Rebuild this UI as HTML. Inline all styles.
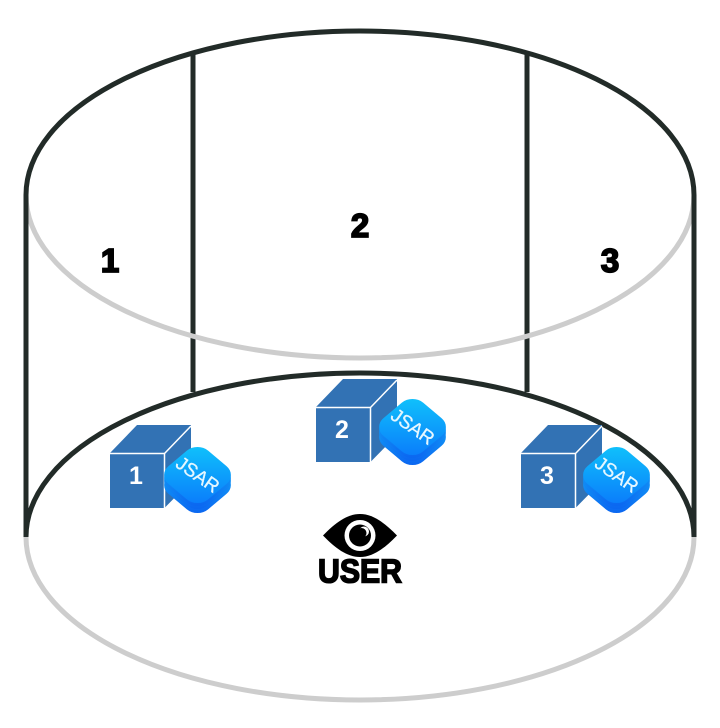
<!DOCTYPE html>
<html><head><meta charset="utf-8"><style>
html,body{margin:0;padding:0;background:#fff;width:720px;height:728px;overflow:hidden}
svg{display:block}
text{font-family:"Liberation Sans",sans-serif}
</style></head><body>
<svg width="720" height="728" viewBox="0 0 720 728" xmlns="http://www.w3.org/2000/svg">
<defs>
<linearGradient id="g1" x1="0" y1="0" x2="1" y2="1"><stop offset="0" stop-color="#10c6fb"/><stop offset="1" stop-color="#0a78fb"/></linearGradient>
<linearGradient id="g2" x1="0" y1="0" x2="1" y2="1"><stop offset="0" stop-color="#16c0fb"/><stop offset="1" stop-color="#0a5ff0"/></linearGradient>
<g id="cube">
<path d="M0 28 L27 0 H81 V56 L54.500 83 H0 Z" fill="#3272b4"/>
<path d="M0 28.500 H54.500 L81 1 M54.500 28.500 V83" fill="none" stroke="#fff" stroke-width="1.500"/>
</g>
<g id="icon">
<rect x="-28" y="-28" width="56" height="56" rx="15" transform="translate(0,10) scale(1,.84) rotate(45)" fill="url(#g2)"/>
<rect x="-28" y="-28" width="56" height="56" rx="15" transform="translate(0,6) scale(1,.84) rotate(45)" fill="url(#g2)"/>
<rect x="-28" y="-28" width="56" height="56" rx="15" transform="translate(0,3) scale(1,.84) rotate(45)" fill="url(#g2)"/>
<rect x="-28" y="-28" width="56" height="56" rx="15" transform="scale(1,.84) rotate(45)" fill="url(#g1)"/>
<text x="0" y="6" font-size="19" fill="#e6f7ff" stroke="#e6f7ff" stroke-width=".3" text-anchor="middle" textLength="48" lengthAdjust="spacingAndGlyphs" transform="rotate(35)">JSAR</text>
</g>
</defs>

<g fill="none" stroke-width="5">
<path d="M193 53 V392 M527 53 V392" stroke="#222b28"/>
<path d="M26 195 A334 163 0 0 0 694 195" stroke="#cdcdcd"/>
<path d="M26 537 A334 163 0 0 0 694 537" stroke="#cdcdcd"/>
<g stroke="#222b28">
<path d="M26 537 V195 A334 164 0 0 1 694 195 V537"/>
<path d="M26 537 A334 164 0 0 1 694 537"/>
</g>
</g>

<g font-weight="700" font-size="33" fill="#000" stroke="#000" stroke-width="1.800" text-anchor="middle">
<text x="110" y="272">1</text>
<text x="360" y="237">2</text>
<text x="610" y="272">3</text>
</g>

<use href="#cube" x="110" y="425"/>
<use href="#cube" x="316" y="379"/>
<use href="#cube" x="521" y="425"/>
<g font-weight="700" font-size="25" fill="#fff" text-anchor="middle">
<text x="136" y="484">1</text>
<text x="342" y="438">2</text>
<text x="547" y="484">3</text>
</g>
<use href="#icon" x="197.500" y="475"/>
<use href="#icon" x="412.500" y="427"/>
<use href="#icon" x="616.500" y="475"/>

<path d="M323 535.500 C335 523 347 514 360 514 C373 514 385 523 397 535.500 C385 548 373 557 360 557 C347 557 335 548 323 535.500 Z" fill="#000"/>
<circle cx="360" cy="535.500" r="15.500" fill="#fff"/>
<circle cx="360" cy="535.500" r="11" fill="#000"/>
<circle cx="364" cy="531.500" r="5" fill="#fff"/>
<circle cx="361.500" cy="533" r="5" fill="#000"/>
<text x="318" y="582.500" font-size="33" font-weight="700" fill="#000" stroke="#000" stroke-width="1.600" textLength="84" lengthAdjust="spacingAndGlyphs">USER</text>
</svg>
</body></html>
